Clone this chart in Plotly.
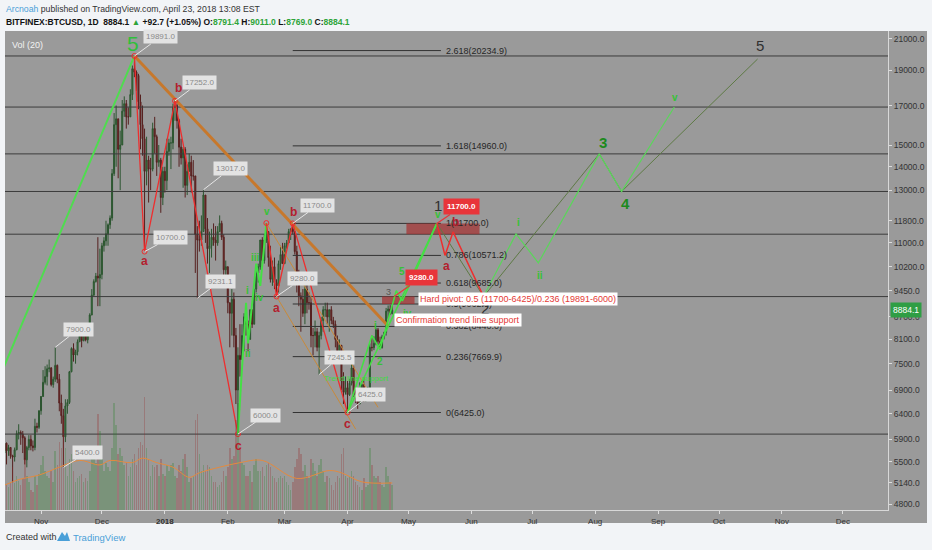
import numpy as np
import pandas as pd
import plotly.graph_objects as go

# ------------------------------------------------------------------ data
candle_start = "2017-10-14"
candle_end = "2018-04-23"
first_open = 5650

close = [
    # Oct 14-31
    5830, 5690, 5750, 5600, 5580, 5710, 6010, 6030, 6000, 5930, 5530, 5750, 5900, 5780, 5750, 6150, 6130, 6460,
    # Nov
    6760, 7070, 7200, 7380, 7400, 7020, 7140, 7460, 7140, 6620, 6360, 5950, 6560, 6630, 7310, 7870, 7710, 7790,
    8040, 8200, 8070, 8250, 8090, 8250, 8750, 9320, 9730, 9900, 9840, 9950,
    # Dec
    10900, 11070, 11320, 11650, 11900, 13700, 16000, 16300, 14800, 15000, 16700, 17100, 16400, 16400, 17600,
    19100, 18900, 18700, 17200, 16000, 15300, 13800, 14300, 13900, 13900, 15800, 15400, 14200, 14300, 12700, 13800,
    # Jan
    13400, 14700, 15100, 15100, 16900, 17000, 16200, 14900, 14400, 14800, 13200, 13800, 14200, 13600, 13600,
    11300, 11100, 11100, 11400, 12800, 11500, 10800, 10900, 11200, 11100, 11000, 11400, 11700, 11200, 10100, 10200,
    # Feb
    9100, 8800, 9200, 8200, 6900, 7700, 7600, 8200, 8700, 8500, 8100, 8900, 8500, 9500, 10000, 10200, 11100,
    10400, 11100, 11400, 10500, 9800, 10200, 9700, 9600, 10300, 10600, 10300,
    # Mar
    10900, 11000, 11400, 11500, 11400, 10700, 9900, 9300, 9200, 8800, 9500, 9100, 9100, 8200, 8200, 8300, 7900,
    8200, 8600, 8900, 8900, 8700, 8900, 8600, 8500, 8100, 7800, 7950, 7100, 6850, 6950,
    # Apr 1-23
    6800, 7050, 7400, 6800, 6780, 6600, 6900, 7020, 6770, 6830, 6930, 7900, 7890, 8000, 8350, 8050, 7890, 8170,
    8280, 8860, 8920, 8791.4, 8884.1,
]
high = [
    5860, 5840, 5800, 5760, 5620, 5750, 6070, 6190, 6070, 6060, 5960, 5780, 5980, 5980, 5880, 6300, 6220, 6470,
    6770, 7350, 7440, 7480, 7600, 7420, 7200, 7900, 7480, 7260, 6800, 6500, 6700, 6700, 7330, 7900, 8000, 7840,
    8100, 8300, 8370, 8300, 8300, 8350, 8800, 9500, 9800, 10000, 11200, 10800,
    11000, 11200, 11800, 11700, 12000, 13900, 16600, 17000, 16300, 15700, 17300, 17500, 17300, 16900, 17900,
    19300, 19891, 19000, 18800, 17600, 17000, 15800, 15400, 14500, 14400, 16100, 16400, 15500, 15000, 14400, 14000,
    14000, 15300, 15300, 15400, 17100, 17252, 17100, 16300, 15300, 14900, 14900, 14100, 14600, 14500, 14300,
    13600, 11600, 11800, 12000, 13017, 12800, 11900, 11400, 11500, 11700, 11600, 11600, 12000, 11800, 11300, 10400,
    10200, 9100, 9500, 9400, 8400, 7900, 8500, 8500, 8800, 9000, 8600, 8900, 8900, 9500, 10200, 10300, 11100,
    11200, 11300, 11713, 11400, 10900, 10400, 10500, 9800, 10400, 10900, 11000,
    11000, 11100, 11500, 11500, 11700, 11400, 10900, 10100, 9400, 9500, 9700, 9800, 9400, 9300, 8400, 8600, 8400,
    8300, 8700, 9000, 9100, 9100, 8900, 9000, 8700, 8600, 8200, 8100, 7950, 7300, 7200,
    7100, 7150, 7500, 7450, 6920, 6850, 7070, 7100, 7180, 6870, 6970, 8000, 8200, 8180, 8400, 8400, 8170, 8220,
    8300, 8950, 9020, 9030, 9011,
]
low = [
    5600, 5450, 5600, 5550, 5150, 5500, 5700, 5900, 5800, 5650, 5450, 5400, 5700, 5700, 5680, 5700, 6030, 6100,
    6380, 6750, 7020, 7000, 7300, 6980, 6950, 7080, 7050, 6450, 6200, 5400, 5850, 6400, 6600, 7300, 7550, 7500,
    7700, 8040, 7900, 8050, 8050, 8000, 8250, 8750, 9300, 9700, 9000, 9000,
    9800, 10700, 10900, 10900, 11500, 11800, 13600, 14000, 13500, 13000, 15000, 16400, 15800, 16000, 16400,
    17300, 18600, 17800, 16800, 14800, 14500, 10700, 13200, 12500, 13000, 13800, 14600, 13600, 14000, 12100, 12400,
    12900, 13000, 14500, 13900, 14800, 16200, 15800, 14000, 14100, 13100, 12700, 12800, 13800, 12900, 13400,
    10000, 9231, 10700, 10900, 11400, 11000, 10300, 10000, 10500, 10900, 10400, 10900, 11400, 11100, 9900, 9700,
    8800, 7900, 8200, 7900, 6600, 6000, 7200, 7600, 7800, 8200, 7800, 8100, 8400, 8500, 9400, 9700, 10100,
    10200, 10300, 11000, 10200, 9700, 9600, 9500, 9280, 9400, 10100, 10300,
    10300, 10800, 11000, 11100, 11300, 10600, 9400, 9000, 8300, 8700, 8500, 8800, 8900, 7900, 7700, 7900, 7800,
    7245, 8100, 8300, 8700, 8500, 8300, 8500, 8400, 7900, 7700, 7700, 6900, 6600, 6800,
    6425, 6770, 7000, 6750, 6620, 6500, 6600, 6900, 6650, 6650, 6800, 6850, 7800, 7830, 7950, 7950, 7850, 7870,
    8100, 8200, 8650, 8750, 8769,
]
volume = [
    18, 22, 20, 25, 38, 24, 30, 26, 22, 28, 45, 30, 25, 18, 16, 30, 22, 32,
    40, 48, 35, 30, 28, 35, 25, 52, 40, 60, 55, 80, 55, 30, 45, 50, 35, 25, 28, 30, 32, 25, 28, 26, 35, 48, 45, 42, 85, 70,
    45, 35, 42, 38, 35, 55, 95, 75, 50, 55, 48, 40, 42, 30, 38, 45, 50, 40, 55, 60, 58, 100, 55, 45, 30, 40, 38, 40, 30, 45, 32,
    30, 40, 35, 40, 42, 30, 28, 40, 35, 45, 50, 38, 25, 28, 30, 80, 85, 50, 35, 40, 35, 40, 38, 30, 25, 25, 20, 22, 25, 35, 30,
    38, 55, 45, 48, 80, 95, 55, 42, 40, 30, 30, 35, 25, 40, 45, 35, 35, 38, 30, 40, 42, 38, 30, 28, 25, 28, 30, 28,
    30, 25, 22, 18, 25, 38, 45, 55, 50, 35, 40, 30, 28, 45, 42, 35, 30, 40, 45, 35, 25, 30, 28, 22, 18, 25, 30, 28, 50, 55, 30,
    28, 30, 35, 30, 25, 22, 20, 18, 28, 20, 22, 55, 40, 30, 28, 30, 25, 22, 20, 38, 30, 25, 22,
]
vol_ma_dates = ["2017-10-14", "2017-10-21", "2017-10-31", "2017-11-10", "2017-11-20", "2017-11-30", "2017-12-05",
                "2017-12-16", "2017-12-21", "2017-12-28", "2018-01-05", "2018-01-13", "2018-01-18", "2018-01-28",
                "2018-02-07", "2018-02-18", "2018-03-07", "2018-03-23", "2018-03-29", "2018-04-08", "2018-04-23"]
vol_ma_values = [22, 27, 31, 38, 44, 40, 44, 42, 46, 42, 38, 29, 33, 38, 42, 44, 28, 35, 33, 25, 24]

# Fibonacci tools
big_fib_low, big_fib_high = 6000, 19891
big_fib_ratios = [0, 0.236, 0.382, 0.5, 0.618, 0.786, 1]
small_fib_low, small_fib_high = 6425, 11700
small_fib_ratios = [0, 0.236, 0.382, 0.5, 0.618, 0.786, 1, 1.618, 2.618]
small_fib_start, small_fib_end = "2018-03-05", "2018-05-17"
full_span = ["2017-10-01", "2019-01-10"]

# drawn wave paths (date, price)
impulse_dates = ["2017-10-12", "2017-12-17"]
impulse_prices = [7230, 19891]
abc1_dates = ["2017-12-17", "2017-12-22", "2018-01-06", "2018-02-06"]
abc1_prices = [19891, 10700, 17252, 6000]
wave_up_dates = ["2018-02-06", "2018-02-10", "2018-02-11", "2018-02-15", "2018-02-17", "2018-02-20"]
wave_up_prices = [6000, 9100, 8000, 10300, 9600, 11713]
abc2_dates = ["2018-02-20", "2018-02-25", "2018-03-05", "2018-04-01"]
abc2_prices = [11713, 9280, 11700, 6425]
trend_dates = ["2017-12-17", "2018-04-21"]
trend_prices = [19891, 8450]
channel_a_dates = ["2018-02-20", "2018-04-16"]
channel_a_prices = [11713, 6530]
channel_b_dates = ["2018-02-25", "2018-04-05"]
channel_b_prices = [9280, 6095]
recovery_dates = ["2018-04-01", "2018-04-13", "2018-04-17", "2018-04-25", "2018-04-28", "2018-05-15"]
recovery_prices = [6425, 8200, 7850, 9450, 9150, 11700]
support_dates = ["2018-04-01", "2018-05-15"]
support_prices = [6425, 11700]
proj_red_dates = ["2018-05-15", "2018-05-19", "2018-05-23", "2018-06-07"]
proj_red_prices = [11700, 10571, 11390, 9278]
proj_green_dates = ["2018-06-07", "2018-06-23", "2018-07-04", "2018-08-03", "2018-08-14", "2018-09-09"]
proj_green_prices = [9278, 11318, 10323, 14584, 12945, 16918]
proj_olive_dates = ["2018-05-15", "2018-06-07", "2018-08-03", "2018-08-14", "2018-10-20"]
proj_olive_prices = [11700, 9278, 14584, 12945, 19700]
zone_high_dates = ["2018-04-30", "2018-06-05"]
zone_high_prices = [11306, 11700]
zone_low_dates = ["2018-04-18", "2018-05-04"]
zone_low_prices = [9062.5, 9280]

# callouts: (date, price, text)
callouts = [
    ("2017-12-17", 19891, "19891.0"), ("2018-01-06", 17252, "17252.0"), ("2018-01-20", 13017, "13017.0"),
    ("2017-12-22", 10700, "10700.0"), ("2017-11-08", 7900, "7900.0"), ("2017-11-12", 5400, "5400.0"),
    ("2018-01-17", 9231.1, "9231.1"), ("2018-02-06", 6000, "6000.0"), ("2018-03-05", 11700, "11700.0"),
    ("2018-02-25", 9280, "9280.0"), ("2018-03-18", 7245.5, "7245.5"), ("2018-04-01", 6425, "6425.0"),
]
red_tags = [("2018-05-15", 11700, "11700.0"), ("2018-04-24", 9280, "9280.0")]

price_ticks = [21000, 19000, 17000, 15000, 14000, 13000, 11800, 11000, 10200, 9450, 8700, 8100, 7500,
               6900, 6400, 5900, 5500, 5140, 4800]
month_ticks = pd.date_range("2017-11-01", "2018-12-01", freq="MS")
month_labels = ["Nov", "Dec", "<b>2018</b>", "Feb", "Mar", "Apr", "May", "Jun", "Jul", "Aug", "Sep", "Oct",
                "Nov", "Dec"]
last_price = 8884.1

# ------------------------------------------------------------------ layout geometry
W, H = 932, 550
ML, MR, MT, MB = 5, 44, 31, 40
PW, PH = W - ML - MR, H - MT - MB
FONT = "Liberation Sans, Arial, sans-serif"


def fx(px):
    return (px - ML) / PW


def fy(py):
    return (H - MB - py) / PH


L10 = np.log10
dates = pd.date_range(candle_start, candle_end, freq="D")
opens = [first_open] + close[:-1]

fig = go.Figure()

# big fib (full width) lines
for r in big_fib_ratios:
    lvl = big_fib_low + r * (big_fib_high - big_fib_low)
    fig.add_trace(go.Scatter(x=full_span, y=[lvl, lvl], mode="lines",
                             line=dict(color="#3c3c3c", width=1), hoverinfo="skip"))

# small fib lines
for r in small_fib_ratios:
    lvl = small_fib_low + r * (small_fib_high - small_fib_low)
    fig.add_trace(go.Scatter(x=[small_fib_start, small_fib_end], y=[lvl, lvl], mode="lines",
                             line=dict(color="#333333", width=1), hoverinfo="skip"))

# red zones
for zd, zp in [(zone_high_dates, zone_high_prices), (zone_low_dates, zone_low_prices)]:
    fig.add_trace(go.Scatter(x=[zd[0], zd[1], zd[1], zd[0], zd[0]],
                             y=[zp[0], zp[0], zp[1], zp[1], zp[0]], mode="lines", fill="toself",
                             fillcolor="rgba(165,45,45,0.7)", line=dict(width=0), hoverinfo="skip"))

# volume
vol_colors = ["rgba(40,130,40,0.28)" if c >= o else "rgba(150,40,40,0.28)" for o, c in zip(opens, close)]
fig.add_trace(go.Bar(x=dates, y=volume, marker=dict(color=vol_colors, line=dict(width=0)),
                     width=86400000 * 0.75, yaxis="y2", hoverinfo="skip"))
fig.add_trace(go.Scatter(x=vol_ma_dates, y=vol_ma_values, mode="lines", yaxis="y2",
                         line=dict(color="#e58a3e", width=1, shape="spline"), hoverinfo="skip"))

# candles
fig.add_trace(go.Candlestick(x=dates, open=opens, high=high, low=low, close=close,
                             increasing=dict(line=dict(color="#2c5530", width=1), fillcolor="#3f8a40"),
                             decreasing=dict(line=dict(color="#55201f", width=1), fillcolor="#8e2828"),
                             whiskerwidth=0, hoverinfo="skip"))


# wave lines
def line(xs, ys, color, width, markers=False):
    fig.add_trace(go.Scatter(x=xs, y=ys, mode="lines+markers" if markers else "lines",
                             line=dict(color=color, width=width),
                             marker=dict(size=5, symbol="circle-open", color=color),
                             hoverinfo="skip"))


line(impulse_dates, impulse_prices, "#4fdc4f", 2)
line(trend_dates, trend_prices, "#c7782c", 3)
line(channel_a_dates, channel_a_prices, "#c98a3a", 1)
line(channel_b_dates, channel_b_prices, "#c98a3a", 1)
line(abc1_dates, abc1_prices, "#ee2e2e", 1.3, True)
line(wave_up_dates, wave_up_prices, "#44e044", 2)
line(abc2_dates, abc2_prices, "#ee2e2e", 1.3, True)
line(support_dates, support_prices, "#44e044", 1.6)
line(recovery_dates, recovery_prices, "#44e044", 1.6)
line(proj_olive_dates, proj_olive_prices, "#5e7a45", 1)
line(proj_red_dates, proj_red_prices, "#ee2e2e", 1.5)
line(proj_green_dates, proj_green_prices, "#5ad65a", 1.2)

ann = []

# callouts
offsets = {"19891.0": (26, -19), "17252.0": (24, -18), "13017.0": (27, -21), "10700.0": (26, -14),
           "7900.0": (23, -18), "5400.0": (24, -15), "9231.1": (23, -17), "6000.0": (28, -19),
           "11700.0": (25, -18), "9280.0": (26, -18), "7245.5": (20, -17), "6425.0": (23, -18)}
for d, p, t in callouts:
    axo, ayo = offsets[t]
    ann.append(dict(x=d, y=L10(p), xref="x", yref="y", text=t, showarrow=True, arrowhead=0,
                    arrowwidth=1, arrowcolor="#e6e6e6", ax=axo, ay=ayo, standoff=0,
                    bgcolor="#e3e3e3", borderpad=2, font=dict(size=8, color="#8a8a8a", family=FONT)))
tag_off = [(25, -17), (27, -19)]
for (d, p, t), (axo, ayo) in zip(red_tags, tag_off):
    ann.append(dict(x=d, y=L10(p), xref="x", yref="y", text="<b>" + t + "</b>", showarrow=True,
                    arrowhead=0, arrowwidth=1.2, arrowcolor="#e8353a", ax=axo, ay=ayo, standoff=0,
                    bgcolor="#e8353a", borderpad=3, font=dict(size=8, color="white", family=FONT)))

# fib labels
for r in small_fib_ratios:
    lvl = small_fib_low + r * (small_fib_high - small_fib_low)
    ann.append(dict(x=small_fib_end, y=L10(lvl), xref="x", yref="y", xanchor="left", yanchor="middle",
                    xshift=3, text=f"{r:g}({lvl:.1f})", showarrow=False,
                    font=dict(size=9, color="#262626", family=FONT)))


def txt(px, py, t, size, color, anchor="center", bg=None, bold=False, yanchor="middle"):
    d = dict(x=fx(px), y=fy(py), xref="paper", yref="paper", text=("<b>%s</b>" % t) if bold else t,
             showarrow=False, xanchor=anchor, yanchor=yanchor, font=dict(size=size, color=color, family=FONT))
    if bg:
        d.update(bgcolor=bg, borderpad=1)
    ann.append(d)


RED, GRN, DGRN, DARK = "#b3202e", "#36c236", "#1d8a1d", "#303030"
txt(133, 43, "5", 21, "#2fbf3a")
for px, py, t in [(178, 88, "b"), (144, 261, "a"), (238, 446, "c"), (293, 212, "b"), (276, 308, "a"),
                  (347, 424, "c"), (447, 266, "a"), (455, 222, "b")]:
    txt(px, py, t, 12, RED, bold=True)
for px, py, t in [(267, 211, "v"), (256, 257, "iii"), (247, 290, "i"), (259, 297, "iv"), (248, 353, "ii"),
                  (438, 214, "v"), (518, 222, "i"), (540, 275, "ii"), (675, 97, "v"), (407, 313, "iv"),
                  (375, 325, "i"), (402, 271, "5"), (380, 361, "2")]:
    txt(px, py, t, 10, GRN, bold=True)
txt(388, 292, "3", 9, "#555555")
txt(438, 205, "1", 15, DARK)
txt(485, 308, "2", 15, DARK)
txt(603, 142, "3", 15, DGRN, bold=True)
txt(625, 203, "4", 15, DGRN, bold=True)
txt(760, 46, "5", 15, DARK)
txt(356, 378, "Trend line support", 8, "#3fdc3f")
txt(418, 299, "Hard pivot: 0.5 (11700-6425)/0.236 (19891-6000)", 9, "#e53935", anchor="left", bg="white")
txt(394, 320, "Confirmation trend line support", 9, "#e53935", anchor="left", bg="white")
txt(10, 45, "Vol (20)", 9, "#f2f2f2", anchor="left")

# header / footer
txt(4, 9, "<span style='color:#4a9fd8'>Arcnoah</span> published on TradingView.com, April 23, 2018 13:08 EST",
    8.7, "#333333", anchor="left")
g = "#2ea43a"
hdr = ("<b>BITFINEX:BTCUSD, 1D</b>  <b>8884.1</b> <span style='color:%s'>▲</span> <b>+92.7 (+1.05%%)</b> "
       "<b>O:</b><span style='color:%s'><b>8791.4</b></span> <b>H:</b><span style='color:%s'><b>9011.0</b></span> "
       "<b>L:</b><span style='color:%s'><b>8769.0</b></span> <b>C:</b><span style='color:%s'><b>8884.1</b></span>"
       % (g, g, g, g, g))
txt(4, 22, hdr, 8.5, "#111111", anchor="left")
txt(4, 537, "Created with", 9, "#333333", anchor="left")
txt(71, 537, "TradingView", 9.5, "#4a9fd8", anchor="left")

# last price tag
ann.append(dict(x=1, y=L10(last_price), xref="paper", yref="y", xanchor="left", yanchor="middle", xshift=2,
                text="8884.1", showarrow=False, bgcolor="#2f9e44", borderpad=2,
                font=dict(size=8.5, color="white", family=FONT)))

shapes = [
    dict(type="rect", xref="paper", yref="paper", x0=fx(5), x1=fx(927), y0=fy(523), y1=fy(31),
         fillcolor="#9a9a9a", line=dict(width=0), layer="below"),
    dict(type="path", xref="paper", yref="paper",
         path="M %f %f L %f %f L %f %f L %f %f L %f %f Z" % (fx(57), fy(541), fx(62), fy(532), fx(65), fy(536),
                                                           fx(67), fy(532), fx(70), fy(541)),
         fillcolor="#4a9fd8", line=dict(width=0)),
]

fig.update_layout(
    width=W, height=H, margin=dict(l=ML, r=MR, t=MT, b=MB),
    paper_bgcolor="#f2f4f7", plot_bgcolor="#9a9a9a", showlegend=False,
    font=dict(family=FONT, size=8, color="#333333"),
    xaxis=dict(type="date", range=["2017-10-14 06:00", "2018-12-23 06:00"], rangeslider=dict(visible=False),
               showgrid=False, zeroline=False, tickvals=month_ticks, ticktext=month_labels, ticks="outside",
               ticklen=3, tickcolor="#dddddd", showline=True, linecolor="#d8d8d8",
               tickfont=dict(size=8, color="#333333")),
    yaxis=dict(type="log", side="right", range=[L10(4717), L10(21530)], showgrid=False, zeroline=False,
               tickvals=price_ticks, ticktext=[f"{v:.1f}" for v in price_ticks], ticks="outside", ticklen=3,
               tickcolor="#dddddd", showline=True, linecolor="#d8d8d8", tickfont=dict(size=8.5, color="#333333")),
    yaxis2=dict(overlaying="y", range=[0, 425], visible=False),
    annotations=ann, shapes=shapes, bargap=0,
)

fig.write_html("out.html", config={"displayModeBar": False},
               post_script="document.body.style.margin='0';document.body.style.background='#f2f4f7';")
